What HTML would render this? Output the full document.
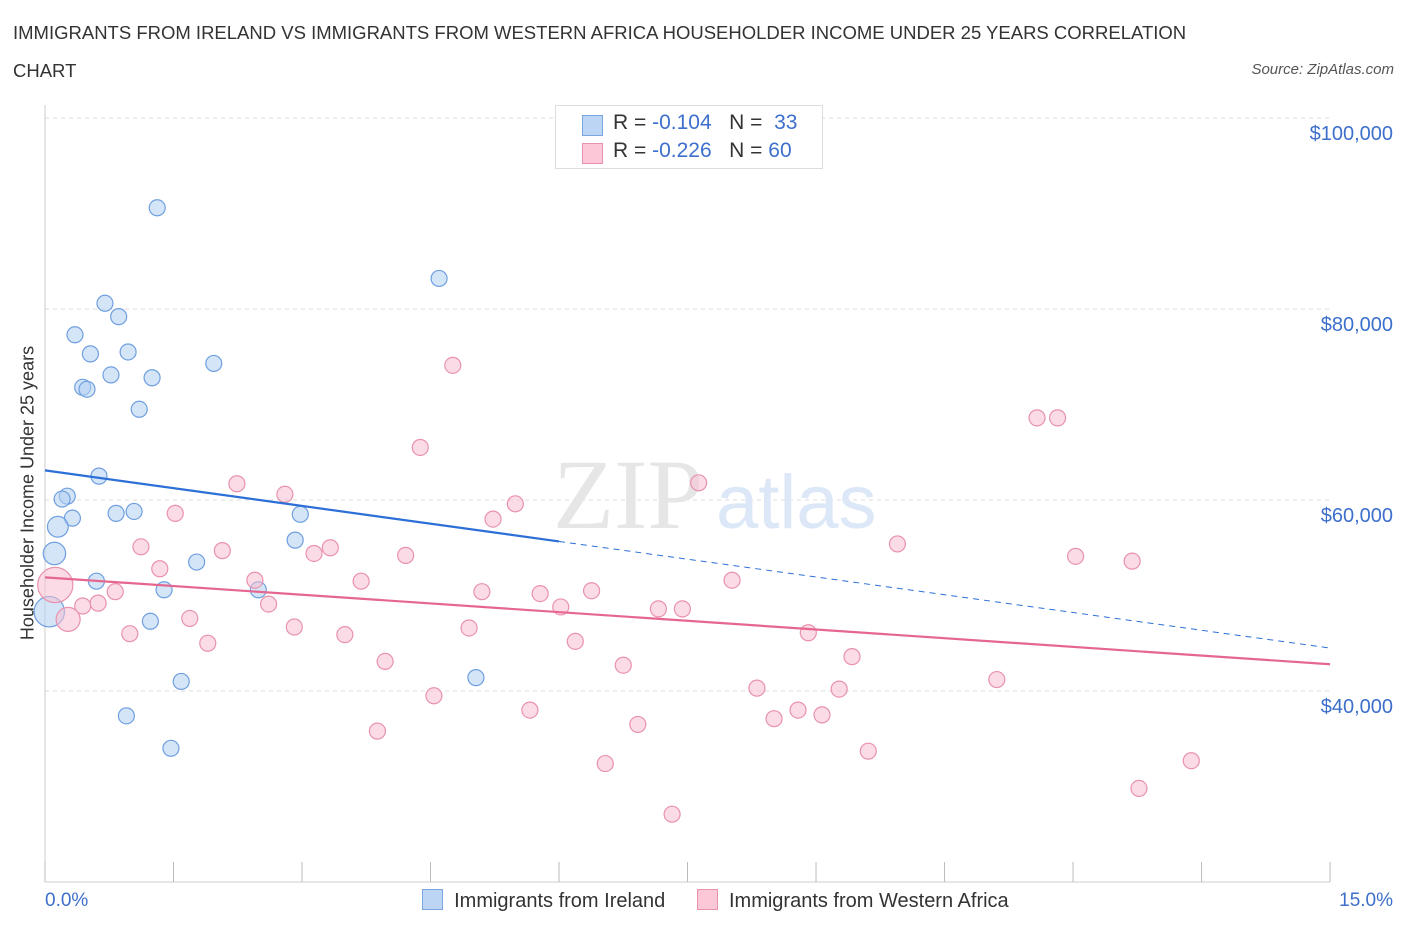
<!DOCTYPE html>
<html><head><meta charset="utf-8"><style>
body{margin:0;background:#fff;font-family:"Liberation Sans",sans-serif;}
.t{position:absolute;color:#333;}
</style></head><body>
<div style="position:relative;width:1406px;height:930px;overflow:hidden">
<div class="t" style="left:13px;top:14px;font-size:18.5px;line-height:38px;color:#333">IMMIGRANTS FROM IRELAND VS IMMIGRANTS FROM WESTERN AFRICA HOUSEHOLDER INCOME UNDER 25 YEARS CORRELATION<br>CHART</div>
<div class="t" style="right:12px;top:61px;font-size:15px;font-style:italic;color:#555">Source: ZipAtlas.com</div>
<svg id="svg" width="1406" height="930" style="position:absolute;left:0;top:0"></svg>
</div>
<script>
const xs1=[1.31,4.60,0.70,0.86,0.35,0.53,0.97,1.97,0.77,1.25,0.44,0.49,1.10,0.63,0.26,0.20,0.32,0.83,1.04,0.15,0.11,2.98,2.92,1.77,0.60,1.39,2.49,0.05,1.23,1.59,5.03,0.95,1.47];
const ys1=[90.6,83.2,80.6,79.2,77.3,75.3,75.5,74.3,73.1,72.8,71.8,71.6,69.5,62.5,60.4,60.1,58.1,58.6,58.8,57.2,54.4,58.5,55.8,53.5,51.5,50.6,50.6,48.3,47.3,41.0,41.4,37.4,34.0];
const sz1=[1,1,1,1,1,1,1,1,1,1,1,1,1,1,1,1,1,1,1,1.3,1.4,1,1,1,1,1,1,1.9,1,1,1,1,1];
const xs2=[4.76,11.58,11.82,4.38,2.24,7.63,2.80,5.49,1.52,5.23,1.12,9.95,2.07,3.14,3.33,4.21,12.03,12.69,1.34,2.45,3.69,8.02,0.12,0.82,5.10,5.78,6.38,0.62,0.44,2.61,0.27,6.02,7.16,7.44,1.69,2.91,4.95,0.99,3.50,8.91,6.19,1.90,9.42,3.97,6.75,11.11,8.31,9.27,4.54,5.66,8.79,9.07,8.51,3.88,6.92,9.61,6.54,13.38,12.77,7.32];
const ys2=[74.1,68.6,68.6,65.5,61.7,61.8,60.6,59.6,58.6,58.0,55.1,55.4,54.7,54.4,55.0,54.2,54.1,53.6,52.8,51.6,51.5,51.6,51.1,50.4,50.4,50.2,50.5,49.2,48.9,49.1,47.5,48.8,48.6,48.6,47.6,46.7,46.6,46.0,45.9,46.1,45.2,45.0,43.6,43.1,42.7,41.2,40.3,40.2,39.5,38.0,38.0,37.5,37.1,35.8,36.5,33.7,32.4,32.7,29.8,27.1];
const sz2=xs2.map((v,i)=>i==22?2.2:(i==30?1.5:1));
const trend1=[63.1,44.5], trend2=[51.9,42.8];
const yTicks=[40,60,80,100];
const yLabels=["$40,000","$60,000","$80,000","$100,000"];
const NS="http://www.w3.org/2000/svg", svg=document.getElementById('svg');
const X=v=>45+v*85.67, Y=v=>691-(v-40)*9.55;
function el(t,a,p){const e=document.createElementNS(NS,t);for(const k in a)e.setAttribute(k,a[k]);(p||svg).appendChild(e);return e;}
yTicks.forEach((t,i)=>{
 const g=el('line',{x1:45,x2:1330,y1:Y(t),y2:Y(t),stroke:'#ddd','stroke-dasharray':'4,4'});
 
 
 const tx=el('text',{x:1393,y:Y(t)+22,'text-anchor':'end','font-size':20,fill:'#3d6fcc','font-family':'Liberation Sans'});
 tx.textContent=yLabels[i];
 
 
});
let a=el('line',{x1:45,x2:45,y1:105,y2:882,stroke:'#ccc'});

a=el('line',{x1:45,x2:1330,y1:882,y2:882,stroke:'#ccc'});

for(let i=0;i<=10;i++){const t=el('line',{x1:X(i*1.5),x2:X(i*1.5),y1:862,y2:882,stroke:'#bbb'});
 }
let w=el('text',{x:553,y:528,'font-size':100,fill:'#e6e6e6','font-family':'Liberation Serif'});w.textContent='ZIP';

w=el('text',{x:716,y:528,'font-size':76,fill:'#dce7f7','font-family':'Liberation Sans'});w.textContent='atlas';

function pts(xs,ys,sz,fill,stroke,name){xs.forEach((v,i)=>{const c=el('circle',{cx:X(v),cy:Y(ys[i]),r:8*sz[i],fill:fill,'fill-opacity':0.55,stroke:stroke,'stroke-width':1.2});
 });}
pts(xs1,ys1,sz1,'#b3cff3','#6f9fe0','ireland-point');
pts(xs2,ys2,sz2,'#f7c0d1','#e992ad','western-africa-point');
const ty=(tr,x)=>tr[0]+(tr[1]-tr[0])*x/15;
let l=el('line',{x1:X(0),y1:Y(ty(trend1,0)),x2:X(6),y2:Y(ty(trend1,6)),stroke:'#2c6fd6','stroke-width':2.2});

l=el('line',{x1:X(6),y1:Y(ty(trend1,6)),x2:X(15),y2:Y(ty(trend1,15)),stroke:'#2c6fd6','stroke-width':1,'stroke-dasharray':'6,5'});

l=el('line',{x1:X(0),y1:Y(ty(trend2,0)),x2:X(15),y2:Y(ty(trend2,15)),stroke:'#e5678f','stroke-width':2.2});

</script>
<div class="t" style="left:45px;top:890px;font-size:19px;color:#3d6fcc">0.0%</div>
<div class="t" style="right:13px;top:890px;font-size:19px;color:#3d6fcc">15.0%</div>
<div class="t" style="left:28px;top:493px;font-size:18px;transform:translate(-50%,-50%) rotate(-90deg);white-space:nowrap">Householder Income Under 25 years</div>
<div style="position:absolute;left:555px;top:105px;width:266px;height:62px;border:1px solid #ddd;background:#fff;font-size:21px;color:#333">
 <div style="position:absolute;left:26px;top:9px;width:19px;height:19px;background:#bcd5f5;border:1px solid #7aa6e0"></div>
 <div style="position:absolute;left:57px;top:5px">R = <span style="color:#3d6fcc">-0.104</span>&nbsp;&nbsp;&nbsp;N = &nbsp;<span style="color:#3d6fcc">33</span></div>
 <div style="position:absolute;left:26px;top:37px;width:19px;height:19px;background:#fcc8d7;border:1px solid #e992ad"></div>
 <div style="position:absolute;left:57px;top:33px">R = <span style="color:#3d6fcc">-0.226</span>&nbsp;&nbsp;&nbsp;N = <span style="color:#3d6fcc">60</span></div>
</div>
<div style="position:absolute;left:422px;top:889px;font-size:20px;color:#333;white-space:nowrap">
 <span><span style="display:inline-block;width:19px;height:19px;background:#bcd5f5;border:1px solid #7aa6e0;vertical-align:-3px"></span>&nbsp; Immigrants from Ireland</span>
 <span style="margin-left:26px"><span style="display:inline-block;width:19px;height:19px;background:#fcc8d7;border:1px solid #e992ad;vertical-align:-3px"></span>&nbsp; Immigrants from Western Africa</span>
</div>
</body></html>
